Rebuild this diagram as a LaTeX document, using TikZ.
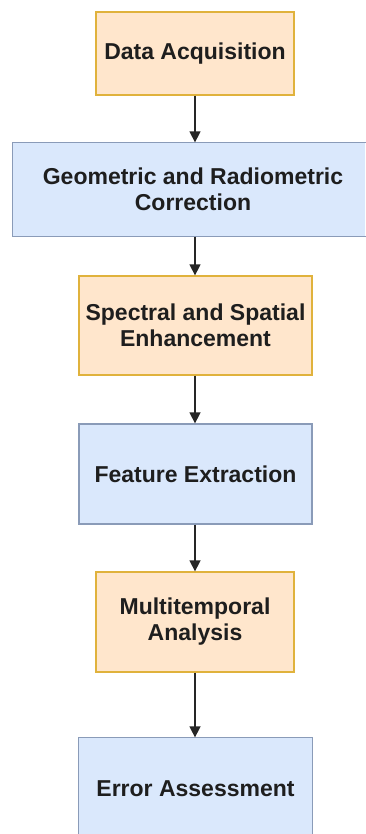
\documentclass[tikz,border=0pt]{standalone}
\usepackage{fontspec}
\setmainfont{Liberation Sans}
\usetikzlibrary{arrows.meta}
\definecolor{warmfill}{HTML}{FFE6CC}
\definecolor{warmline}{HTML}{E0B23C}
\definecolor{coolfill}{HTML}{DAE8FC}
\definecolor{coolline}{HTML}{8A9BB8}
\definecolor{inkdark}{HTML}{1E1E1E}
\definecolor{arrowgray}{HTML}{262626}
\tikzset{
  stage/.style={rectangle, line width=1.3pt, align=center, inner sep=0pt,
    text=inkdark, font=\fontsize{23}{26}\selectfont\bfseries},
  warmbox/.style={stage, fill=warmfill, draw=warmline},
  coolbox/.style={stage, fill=coolfill, draw=coolline},
  flow/.style={draw=arrowgray, line width=1.5pt,
    -{Triangle[width=11pt,length=11pt]}}
}
\begin{document}
\begin{tikzpicture}[x=1pt,y=1pt]
  \useasboundingbox (0,0) rectangle (365,-834);
  \fill[white] (0,0) rectangle (365,-834);

  \node[warmbox, minimum width=198pt, minimum height=83pt] (acq) at (195,-53.5)
    {Data Acquisition};
  % the wide correction box runs on past the right edge of the page
  \node[stage, fill=coolfill, minimum width=352pt, minimum height=93pt] (corr)
    at (189,-189.5) {};
  \draw[coolline, line width=1.3pt]
    (corr.north east) -- (corr.north west) -- (corr.south west) -- (corr.south east);
  \node[stage] (corrtext) at (193,-189.5) {Geometric and Radiometric\\Correction};
  \node[warmbox, minimum width=233pt, minimum height=99pt] (enh) at (195.5,-325.5)
    {Spectral and Spatial\\Enhancement};
  \node[coolbox, minimum width=233pt, minimum height=100pt] (feat) at (195.5,-474)
    {Feature Extraction};
  \node[warmbox, minimum width=198pt, minimum height=100pt] (multi) at (195,-622)
    {Multitemporal\\Analysis};
  % the last box runs on past the bottom edge
  \node[stage, fill=coolfill, minimum width=233pt, minimum height=96pt] (err)
    at (195.5,-786) {};
  \draw[coolline, line width=1.3pt]
    (err.south west) -- (err.north west) -- (err.north east) -- (err.south east);
  \node[stage] (errtext) at (195.5,-789) {Error Assessment};

  \draw[flow] (acq.south) -- (acq.south |- corr.north);
  \draw[flow] (acq.south |- corr.south) -- (acq.south |- enh.north);
  \draw[flow] (acq.south |- enh.south) -- (acq.south |- feat.north);
  \draw[flow] (acq.south |- feat.south) -- (multi.north);
  \draw[flow] (multi.south) -- (multi.south |- err.north);
\end{tikzpicture}
\end{document}
